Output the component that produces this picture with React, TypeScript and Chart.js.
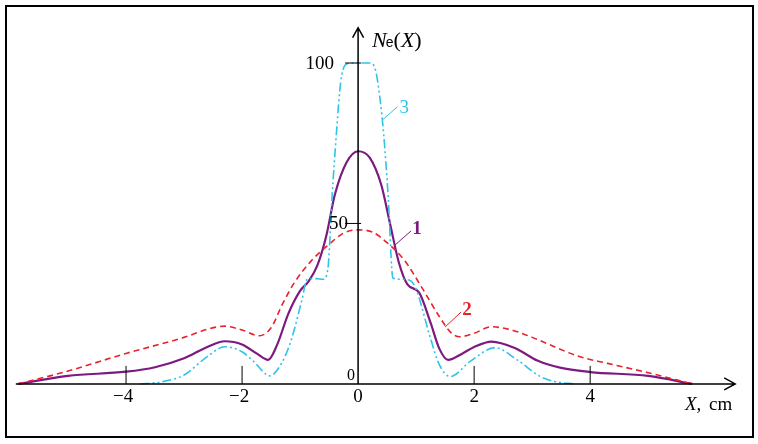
import { useEffect, useRef } from "react";
import { Chart, registerables } from "chart.js";

Chart.register(...registerables);

// curve 1 (solid purple)
const x1 = [-5.86, -5.0, -4.0, -3.5, -3.0, -2.6, -2.3, -2.0, -1.75, -1.55, -1.4, -1.2, -1.0, -0.85, -0.7, -0.55, -0.4, -0.2, 0, 0.2, 0.4, 0.55, 0.7, 0.85, 1.05, 1.25, 1.4, 1.55, 1.8, 2.0, 2.3, 2.7, 3.1, 3.5, 4.0, 5.0, 5.76];
const y1 = [0, 2.5, 3.8, 5.2, 8, 11.5, 13.3, 12.3, 9.5, 7.5, 12, 22, 29, 32, 37, 46, 59, 69, 72.5, 70.5, 62, 50, 38, 31, 28.5, 19, 11, 7.5, 9.5, 11.5, 13.2, 11.2, 7.2, 5, 3.7, 2.5, 0];

// curve 2 (dashed red)
const x2 = [-5.86, -5.0, -4.0, -3.0, -2.6, -2.3, -2.0, -1.7, -1.5, -1.3, -1.1, -0.8, -0.5, -0.25, 0, 0.25, 0.5, 0.8, 1.1, 1.4, 1.6, 1.75, 2.0, 2.3, 2.7, 3.0, 3.8, 4.3, 5.0, 5.76];
const y2 = [0, 4, 9.5, 14.5, 17, 18, 16.8, 15, 17.5, 25, 31.5, 38.5, 43.5, 47, 48, 47.3, 44, 38.5, 30, 21, 16, 14.7, 15.8, 17.8, 16.5, 14.5, 8.6, 6.4, 3.5, 0];

// curve 3 (dash-dot-dot cyan)
const x3 = [-3.75, -3.4, -3.0, -2.6, -2.3, -2.0, -1.8, -1.52, -1.35, -1.17, -0.97, -0.88, -0.72, -0.6, -0.52, -0.45, -0.37, -0.3, -0.22, -0.1, 0.1, 0.2, 0.3, 0.38, 0.44, 0.52, 0.6, 0.75, 0.9, 1.0, 1.24, 1.4, 1.59, 1.93, 2.36, 2.74, 3.14, 3.4, 3.72];
const y3 = [0, 0.6, 2.8, 8.5, 11.6, 10, 7, 2.5, 5.5, 12.7, 26, 32.5, 32.8, 32.6, 36, 58, 79, 94, 99.4, 100, 100, 100, 97.8, 88.5, 78, 58, 33, 32.6, 32.2, 29.5, 14.7, 6, 2.3, 7, 11.3, 7.5, 2.3, 0.7, 0];

const xTicks = [-4, -2, 0, 2, 4];
const xTickLabels = ["\u22124", "\u22122", "0", "2", "4"];
const yTicks = [50, 100];
const yTickLabels = ["50", "100"];

const PURPLE = "#7d1a80";
const RED = "#e8222c";
const CYAN = "#2ec3e8";

const SERIF = "'Liberation Serif', 'Times New Roman', serif";
const SANS = "'Liberation Sans', Arial, sans-serif";

const pts = (xs: number[], ys: number[]) => xs.map((x, i) => ({ x, y: ys[i] }));

// label text in data coords, leader line offsets in px
const curveLabels = [
  { text: "1", color: PURPLE, bold: true, x: 1.0, y: 48.3, from: [-21, 16], to: [-5, 2] },
  { text: "2", color: RED, bold: true, x: 1.86, y: 23, from: [-21, 17], to: [-5, 2] },
  { text: "3", color: CYAN, bold: false, x: 0.78, y: 86, from: [-21, 12], to: [-6, -1] },
];

const axesPlugin = {
  id: "sketchAxes",
  beforeDraw(chart: any) {
    const { ctx, width, height } = chart;
    ctx.save();
    ctx.fillStyle = "#fff";
    ctx.fillRect(0, 0, width, height);
    ctx.strokeStyle = "#000";
    ctx.lineWidth = 2;
    ctx.strokeRect(6, 6, 747, 431);
    ctx.restore();
  },
  afterDatasetsDraw(chart: any) {
    const { ctx } = chart;
    const xs = chart.scales.x;
    const ys = chart.scales.y;
    const ox = xs.getPixelForValue(0);
    const oy = ys.getPixelForValue(0);
    const left = xs.getPixelForValue(-5.9);
    const right = xs.getPixelForValue(6.5);
    const top = ys.getPixelForValue(111);

    ctx.save();
    ctx.strokeStyle = "#000";
    ctx.fillStyle = "#000";
    ctx.lineWidth = 1.5;

    // x axis + arrow
    ctx.beginPath();
    ctx.moveTo(left, oy);
    ctx.lineTo(right, oy);
    ctx.moveTo(right - 11, oy - 6);
    ctx.lineTo(right, oy);
    ctx.lineTo(right - 11, oy + 6);
    ctx.stroke();

    // y axis + arrow
    ctx.beginPath();
    ctx.moveTo(ox, oy);
    ctx.lineTo(ox, top);
    ctx.moveTo(ox - 5.5, top + 10);
    ctx.lineTo(ox, top);
    ctx.lineTo(ox + 5.5, top + 10);
    ctx.stroke();

    // tick marks
    ctx.lineWidth = 1;
    ctx.beginPath();
    xTicks.forEach((v) => {
      if (v === 0) return;
      const px = xs.getPixelForValue(v);
      ctx.moveTo(px, oy);
      ctx.lineTo(px, oy - 18);
    });
    yTicks.forEach((v) => {
      const py = ys.getPixelForValue(v);
      ctx.moveTo(ox - 13, py);
      ctx.lineTo(ox + 3, py);
    });
    ctx.stroke();

    ctx.font = `19px ${SERIF}`;
    ctx.textAlign = "center";
    ctx.textBaseline = "middle";
    xTicks.forEach((v, i) => {
      const px = xs.getPixelForValue(v);
      ctx.fillText(xTickLabels[i], v < 0 ? px - 3 : px, oy + 13);
    });

    ctx.textAlign = "right";
    yTicks.forEach((v, i) => {
      const py = ys.getPixelForValue(v);
      ctx.fillText(yTickLabels[i], ox - (v === 100 ? 24 : 10), py + 1);
    });
    ctx.font = `16px ${SERIF}`;
    ctx.fillText("0", ox - 3, oy - 8);

    // axis titles
    ctx.textAlign = "left";
    ctx.textBaseline = "alphabetic";
    let tx = ox + 14;
    const ty = 47;
    ctx.font = `italic 22px ${SERIF}`;
    ctx.fillText("N", tx, ty);
    tx += ctx.measureText("N").width - 1;
    ctx.font = `14px ${SANS}`;
    ctx.fillText("e", tx, ty);
    tx += ctx.measureText("e").width;
    ctx.font = `22px ${SERIF}`;
    ctx.fillText("(", tx, ty);
    tx += ctx.measureText("(").width;
    ctx.font = `italic 22px ${SERIF}`;
    ctx.fillText("X", tx, ty);
    tx += ctx.measureText("X").width;
    ctx.font = `22px ${SERIF}`;
    ctx.fillText(")", tx, ty);

    let bx = 685;
    const by = 410;
    ctx.font = `italic 19px ${SERIF}`;
    ctx.fillText("X,", bx, by);
    bx = 709;
    ctx.font = `19px ${SERIF}`;
    ctx.fillText("cm", bx, by);

    // curve labels with leaders
    ctx.textAlign = "center";
    ctx.textBaseline = "middle";
    curveLabels.forEach((l) => {
      const px = xs.getPixelForValue(l.x);
      const py = ys.getPixelForValue(l.y);
      ctx.strokeStyle = l.color;
      ctx.fillStyle = l.color;
      ctx.lineWidth = 1;
      ctx.beginPath();
      ctx.moveTo(px + l.from[0], py + l.from[1]);
      ctx.lineTo(px + l.to[0], py + l.to[1]);
      ctx.stroke();
      ctx.font = `${l.bold ? "bold " : ""}19px ${SERIF}`;
      ctx.fillText(l.text, px + 1, py);
    });
    ctx.restore();
  },
};

export default function App() {
  const canvasRef = useRef<HTMLCanvasElement>(null);

  useEffect(() => {
    if (!canvasRef.current) return;
    const chart = new Chart(canvasRef.current, {
      type: "line",
      data: {
        datasets: [
          {
            label: "3",
            data: pts(x3, y3),
            borderColor: CYAN,
            borderWidth: 1.6,
            borderDash: [9, 3, 2, 3, 2, 3],
            pointRadius: 0,
            cubicInterpolationMode: "monotone",
          },
          {
            label: "2",
            data: pts(x2, y2),
            borderColor: RED,
            borderWidth: 1.6,
            borderDash: [6, 4],
            pointRadius: 0,
            cubicInterpolationMode: "monotone",
          },
          {
            label: "1",
            data: pts(x1, y1),
            borderColor: PURPLE,
            borderWidth: 2.2,
            pointRadius: 0,
            cubicInterpolationMode: "monotone",
          },
        ],
      },
      options: {
        responsive: false,
        animation: false,
        events: [],
        layout: { padding: { left: 10, right: 17, top: 24.5, bottom: 28 } },
        plugins: { legend: { display: false }, tooltip: { enabled: false } },
        scales: {
          x: { type: "linear", min: -6, max: 6.6, display: false },
          y: { type: "linear", min: -10, max: 112, display: false },
        },
      },
      plugins: [axesPlugin],
    });
    return () => chart.destroy();
  }, []);

  return (
    <div style={{ position: "absolute", left: 0, top: 0, width: 758, height: 444 }}>
      <canvas ref={canvasRef} width={758} height={444} style={{ display: "block" }} />
    </div>
  );
}
